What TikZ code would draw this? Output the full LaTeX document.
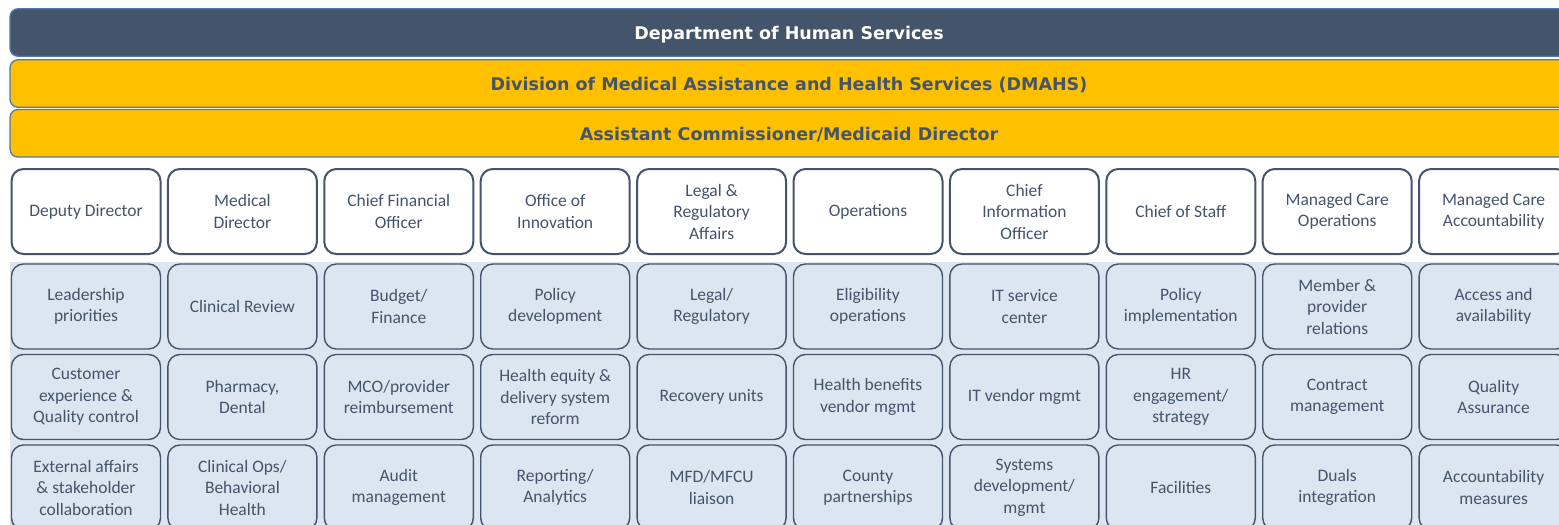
\documentclass[tikz,border=0pt]{standalone}
\usepackage{fontspec}
\setmainfont{Carlito}
\newfontfamily\bannerfont{DejaVu Sans}
\definecolor{slate}{HTML}{44546A}
\definecolor{gold}{HTML}{FFC000}
\definecolor{steel}{HTML}{4E7BAA}
\definecolor{paleblue}{HTML}{DCE6F0}
\begin{document}
\begin{tikzpicture}[x=1pt,y=-1pt,
  banner/.style={rounded corners=8pt, draw=steel, line width=1.3pt,
    minimum width=1558pt, minimum height=47.5pt, inner sep=0pt,
    text height=14.5pt, text depth=0pt,
    font=\bannerfont\bfseries\fontsize{17.5}{21}\selectfont},
  headbox/.style={rounded corners=12pt, draw=slate, line width=2pt, fill=white,
    minimum width=149pt, minimum height=85pt, inner sep=0pt, align=center,
    text=slate, font=\fontsize{17.5}{21.5}\selectfont},
  unitbox/.style={headbox, line width=1.4pt, fill=paleblue}]
  % page frame and clipping window
  \clip (0,0) rectangle (1559,525);
  \fill[white] (0,0) rectangle (1559,525);
  % backdrop behind the unit rows
  \fill[paleblue] (10,262) rectangle (1570,540);

  % top banners
  \node[banner, fill=slate, text=white] (dhs) at (789,32.5) {Department of Human Services};
  \node[banner, fill=gold, text=slate] (dmahs) at (789,83.5) {Division of Medical Assistance and Health Services (DMAHS)};
  \node[banner, fill=gold, text=slate] (acmd) at (789,133.3) {Assistant Commissioner/Medicaid Director};

  % leadership row
  \foreach \t [count=\i] in {
      {Deputy Director},
      {Medical\\Director},
      {Chief Financial\\Officer},
      {Office of\\Innovation},
      {Legal \&\\Regulatory\\Affairs},
      {Operations},
      {Chief\\Information\\Officer},
      {Chief of Staff},
      {Managed Care\\Operations},
      {Managed Care\\Accountability}}
    \node[headbox] (h\i) at ({86+156.4*(\i-1)},211.5) {\t};

  % first unit row
  \foreach \t [count=\i] in {
      {Leadership\\priorities},
      {Clinical Review},
      {Budget/\\Finance},
      {Policy\\development},
      {Legal/\\Regulatory},
      {Eligibility\\operations},
      {IT service\\center},
      {Policy\\implementation},
      {Member \&\\provider\\relations},
      {Access and\\availability}}
    \node[unitbox] (a\i) at ({86+156.4*(\i-1)},306.5) {\t};

  % second unit row
  \foreach \t [count=\i] in {
      {Customer\\experience \&\\Quality control},
      {Pharmacy,\\Dental},
      {MCO/provider\\reimbursement},
      {Health equity \&\\delivery system\\reform},
      {Recovery units},
      {Health benefits\\vendor mgmt},
      {IT vendor mgmt},
      {HR\\engagement/\\strategy},
      {Contract\\management},
      {Quality\\Assurance}}
    \node[unitbox] (b\i) at ({86+156.4*(\i-1)},397) {\t};

  % third unit row
  \foreach \t [count=\i] in {
      {External affairs\\\& stakeholder\\collaboration},
      {Clinical Ops/\\Behavioral\\Health},
      {Audit\\management},
      {Reporting/\\Analytics},
      {MFD/MFCU\\liaison},
      {County\\partnerships},
      {Systems\\development/\\mgmt},
      {Facilities},
      {Duals\\integration},
      {Accountability\\measures}}
    \node[unitbox] (c\i) at ({86+156.4*(\i-1)},487.5) {\t};
\end{tikzpicture}
\end{document}
